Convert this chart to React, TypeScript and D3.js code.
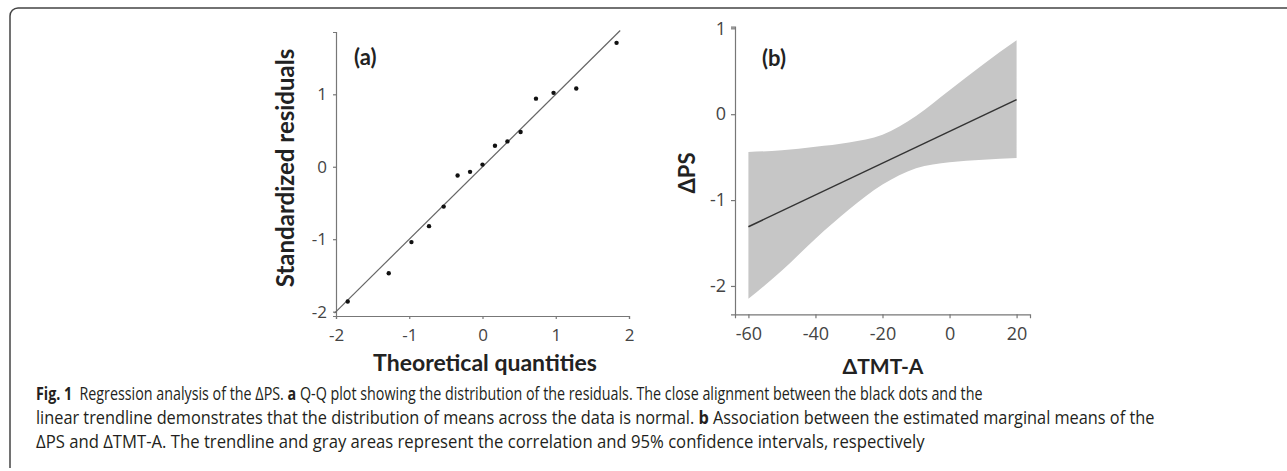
import React, { useEffect, useRef } from "react";
import * as d3 from "d3";

// (a) Q-Q plot of the residuals
const theoretical = [-1.84, -1.28, -0.97, -0.73, -0.53, -0.34, -0.17, 0, 0.17, 0.34, 0.52, 0.73, 0.97, 1.28, 1.83];
const residuals = [-1.86, -1.47, -1.04, -0.82, -0.55, -0.12, -0.07, 0.03, 0.29, 0.35, 0.48, 0.94, 1.02, 1.08, 1.71];
const refLine = [-2.02, 1.88];
const qqXTicks = [-2, -1, 0, 1, 2];
const qqYTicks = [-2, -1, 0, 1];

// (b) estimated marginal means of dPS against dTMT-A
const tmt = [-60, -50, -40, -30, -20, -10, 0, 10, 20];
const psUpper = [-0.44, -0.42, -0.38, -0.33, -0.24, -0.02, 0.28, 0.58, 0.86];
const psLower = [-2.15, -1.82, -1.45, -1.11, -0.82, -0.63, -0.56, -0.53, -0.51];
const trendX = [-60, 20];
const trendY = [-1.31, 0.17];
const tmtTicks = [-60, -40, -20, 0, 20];
const psTicks = [-2, -1, 0, 1];

// caption, one entry per line: [text, bold]
const captionLines = [
  [["Fig. 1", true], ["\u2002Regression analysis of the ΔPS. ", false], ["a", true],
   [" Q-Q plot showing the distribution of the residuals. The close alignment between the black dots and the", false]],
  [["linear trendline demonstrates that the distribution of means across the data is normal. ", false], ["b", true],
   [" Association between the estimated marginal means of the", false]],
  [["ΔPS and ΔTMT-A. The trendline and gray areas represent the correlation and 95% confidence intervals, respectively", false]],
];
const captionWidths = [947, 1119, 889];

const tickFont = "'Open Sans', 'DejaVu Sans', sans-serif";
const titleFont = "Lato, 'Open Sans', sans-serif";
const captionFont = "'Open Sans', 'Noto Sans', sans-serif";

function App() {
  const ref = useRef<SVGGElement>(null);

  useEffect(() => {
    drawChart();
  }, []);

  const drawChart = () => {
    const svg = d3.select(ref.current);
    svg.selectAll("*").remove();

    // frame: top and left rule with a rounded corner
    svg.append("path")
      .attr("d", "M1287,8 H18 A8,8 0 0 0 10,16 V468")
      .attr("fill", "none")
      .attr("stroke", "#444")
      .attr("stroke-width", 1.5);

    const styleAxis = (g, size) => {
      g.select(".domain").attr("stroke", "#777").attr("stroke-width", 1.2);
      g.selectAll(".tick line").attr("stroke", "#777").attr("stroke-width", 1.2);
      g.selectAll(".tick text")
        .attr("fill", "#444")
        .style("font-family", tickFont)
        .style("font-size", size + "px");
    };
    const fmt = d => String(d);

    // ---------- panel (a)
    const xa = d3.scaleLinear().domain([-2, 2]).range([336, 629]);
    const ya = d3.scaleLinear().domain([-2.06, 1.86]).range([316, 32]);

    const a = svg.append("g");

    a.append("g")
      .attr("transform", "translate(0,316)")
      .call(d3.axisBottom(xa).tickValues(qqXTicks).tickFormat(fmt).tickSizeOuter(0).tickSize(3).tickPadding(10))
      .call(g => styleAxis(g, 17));

    a.append("g")
      .attr("transform", "translate(336,0)")
      .call(d3.axisLeft(ya).tickValues(qqYTicks).tickFormat(fmt).tickSizeOuter(0).tickSize(3).tickPadding(6))
      .call(g => styleAxis(g, 17));

    a.append("line")
      .attr("x1", xa(refLine[0])).attr("y1", ya(refLine[0]))
      .attr("x2", xa(refLine[1])).attr("y2", ya(refLine[1]))
      .attr("stroke", "#666")
      .attr("stroke-width", 1.2);

    a.selectAll("circle")
      .data(theoretical)
      .enter()
      .append("circle")
      .attr("cx", d => xa(d))
      .attr("cy", (d, i) => ya(residuals[i]))
      .attr("r", 2.2)
      .attr("fill", "#111");

    a.append("text")
      .attr("x", 354).attr("y", 65)
      .style("font-family", titleFont).style("font-weight", "bold").style("font-size", "22px")
      .attr("fill", "#222")
      .text("(a)");

    a.append("text")
      .attr("x", 485).attr("y", 371)
      .attr("text-anchor", "middle")
      .style("font-family", titleFont).style("font-weight", "bold").style("font-size", "23px")
      .attr("fill", "#222")
      .text("Theoretical quantities");

    a.append("text")
      .attr("transform", "translate(294,168) rotate(-90)")
      .attr("text-anchor", "middle")
      .style("font-family", titleFont).style("font-weight", "bold").style("font-size", "24px")
      .attr("fill", "#222")
      .text("Standardized residuals");

    // ---------- panel (b)
    const xb = d3.scaleLinear().domain([-64, 24]).range([735, 1030]);
    const yb = d3.scaleLinear().domain([-2.33, 1.02]).range([314.3, 26.6]);

    const b = svg.append("g");

    const band = d3.area<number>()
      .x(d => xb(d))
      .y0((d, i) => yb(psLower[i]))
      .y1((d, i) => yb(psUpper[i]))
      .curve(d3.curveMonotoneX);

    b.append("path")
      .attr("d", band(tmt))
      .attr("fill", "#c6c6c6");

    b.append("line")
      .attr("x1", xb(trendX[0])).attr("y1", yb(trendY[0]))
      .attr("x2", xb(trendX[1])).attr("y2", yb(trendY[1]))
      .attr("stroke", "#333")
      .attr("stroke-width", 1.5);

    b.append("g")
      .attr("transform", "translate(0,314.3)")
      .call(d3.axisBottom(xb).tickValues(tmtTicks).tickFormat(fmt).tickSizeOuter(0).tickSize(4).tickPadding(9))
      .call(g => styleAxis(g, 18));

    b.append("g")
      .attr("transform", "translate(735,0)")
      .call(d3.axisLeft(yb).tickValues(psTicks).tickFormat(fmt).tickSizeOuter(0).tickSize(4).tickPadding(5))
      .call(g => styleAxis(g, 18));

    b.append("text")
      .attr("x", 762).attr("y", 66)
      .style("font-family", titleFont).style("font-weight", "bold").style("font-size", "22px")
      .attr("fill", "#222")
      .text("(b)");

    b.append("text")
      .attr("x", 883).attr("y", 374)
      .attr("text-anchor", "middle")
      .style("font-family", titleFont).style("font-weight", "bold").style("font-size", "21px")
      .attr("fill", "#222")
      .text("ΔTMT-A");

    b.append("text")
      .attr("transform", "translate(695,173) rotate(-90)")
      .attr("text-anchor", "middle")
      .style("font-family", titleFont).style("font-weight", "bold").style("font-size", "22px")
      .attr("fill", "#222")
      .text("ΔPS");

    // ---------- caption: each line squeezed horizontally to the reference width
    captionLines.forEach((segs, i) => {
      const g = svg.append("g");
      const t = g.append("text")
        .attr("x", 0).attr("y", 0)
        .attr("fill", "#231f20")
        .style("font-family", captionFont)
        .style("font-size", "18px");
      segs.forEach(([s, bold]) => {
        t.append("tspan")
          .style("font-weight", bold ? "bold" : "normal")
          .text(s);
      });
      const w = (t.node() as SVGTextElement).getComputedTextLength() || captionWidths[i];
      g.attr("transform", `translate(36,${400 + i * 24}) scale(${captionWidths[i] / w},1)`);
    });
  };

  return (
    <svg width={1287} height={471}
      style={{ position: "absolute", left: 0, top: 0, background: "#fff" }}>
      <g ref={ref}></g>
    </svg>
  );
}

export default App;
